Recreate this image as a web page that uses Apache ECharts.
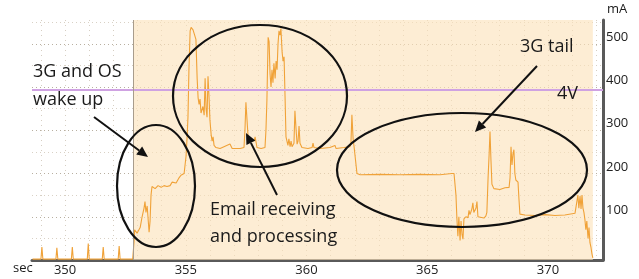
<!DOCTYPE html>
<html><head><meta charset="utf-8">
<script src="https://cdn.jsdelivr.net/npm/echarts@6/dist/echarts.min.js"></script>
<style>html,body{margin:0;padding:0;background:#fff}#c{width:639px;height:279px}</style>
</head><body><div id="c"></div>
<script>
// time (sec) and current (mA)
const times = [348.65,349.00,349.04,349.08,349.62,349.66,349.70,350.26,350.30,350.34,350.92,350.96,351.00,351.54,351.58,351.62,352.20,352.24,352.28,352.80,
352.86,352.88,352.98,353.11,353.19,353.27,353.31,353.35,353.40,353.48,353.52,353.56,353.60,353.73,353.85,353.98,354.10,354.22,354.35,354.43,354.60,354.72,354.80,354.93,
355.01,355.05,355.09,355.13,355.18,355.22,355.30,355.38,355.42,355.47,355.51,355.55,355.59,355.63,355.71,355.76,355.80,355.84,355.88,355.92,355.96,356.00,356.05,356.09,356.13,356.17,356.25,356.42,356.58,356.83,356.92,357.25,357.41,357.45,357.49,357.54,357.58,357.66,357.74,357.83,357.87,357.95,358.12,358.28,
358.32,358.36,358.41,358.45,358.49,358.53,358.57,358.61,358.65,358.70,358.74,358.78,358.82,358.86,358.90,358.94,358.99,359.03,359.07,359.11,359.15,359.19,359.23,359.27,359.32,359.36,359.40,359.48,359.52,359.57,359.61,359.65,359.69,359.73,359.81,360.06,360.23,360.27,360.31,360.56,360.97,361.18,361.22,361.55,361.80,361.84,361.88,361.93,361.97,362.05,362.09,
362.22,363.04,363.87,364.70,365.53,366.02,366.07,366.11,366.15,366.19,366.23,366.27,366.31,366.36,366.40,366.44,366.48,366.52,366.60,366.69,366.73,366.77,366.85,366.89,366.93,367.02,367.06,367.10,367.18,367.35,367.43,367.47,367.52,367.56,367.60,367.64,367.68,367.76,368.01,368.22,368.39,368.43,368.47,368.51,368.55,368.59,368.63,368.67,368.76,368.80,368.84,
369.05,369.46,369.88,370.29,370.70,371.12,371.20,371.24,371.28,371.33,371.37,371.41,371.45,371.49,371.53,371.57,371.61,371.66,371.70,371.74,371.78,371.82,371.86];
const currents = [2,2,30,2,2,28,2,2,30,2,2,38,2,2,30,2,2,32,2,2,
45,70,62,75,100,120,135,110,125,64,90,150,170,165,172,168,172,170,172,180,178,190,196,200,
240,280,330,440,530,538,532,536,510,420,375,360,372,340,355,335,420,350,330,425,380,324,290,275,285,265,260,258,262,268,258,258,260,300,365,320,285,280,282,275,285,260,258,260,
300,370,515,505,430,400,440,410,455,420,460,440,500,530,520,535,480,460,470,380,285,275,265,280,262,275,262,270,345,300,268,275,310,270,260,258,260,270,260,258,260,265,258,260,262,270,336,280,262,258,200,
197,198,197,198,197,200,204,200,199,150,95,55,100,45,90,60,48,95,100,98,115,105,118,132,110,120,135,100,98,97,102,110,190,240,297,230,175,165,163,167,168,190,262,220,245,255,200,185,180,140,106,
104,103,105,103,104,108,112,150,120,148,118,150,120,110,94,70,90,50,75,40,30,15,5];
const xLabels = [350,355,360,365,370];
const xGrid = [349,350,351,352,353,354,355,356,357,358,359,360,361,362,363,364,365,366,367,368,369,370,371,372];
const yLabels = [100,200,300,400,500];
const activeStart = 352.82, activeEnd = 371.86;
const voltLine = 393;

const data = times.map((t,i)=>[t,currents[i]]);
const chart = echarts.init(document.getElementById('c'), null, {renderer:'canvas'});
const FF = '"Open Sans", sans-serif';

function arrow(x1,y1,x2,y2){
  const a = Math.atan2(y2-y1,x2-x1), L=11, W=5;
  const bx = x2 - L*Math.cos(a), by = y2 - L*Math.sin(a);
  const px = -Math.sin(a)*W, py = Math.cos(a)*W;
  return [
    {type:'line', shape:{x1:x1,y1:y1,x2:bx,y2:by}, style:{stroke:'#111', lineWidth:2}, z:10},
    {type:'polygon', shape:{points:[[x2,y2],[bx+px,by+py],[bx-px,by-py]]}, style:{fill:'#111'}, z:10}
  ];
}
function ell(cx,cy,rx,ry){return {type:'ellipse', shape:{cx:cx,cy:cy,rx:rx,ry:ry}, style:{fill:null, stroke:'#111', lineWidth:2.2}, z:10};}
function txt(x,y,s,size){return {type:'text', x:x, y:y, style:{text:s, font:(size||18)+'px '+FF, fill:'#1a1a1a', textVerticalAlign:'middle'}, z:11};}

const major='#b8af a0'.replace(' ',''), minor='#d9d1c5';
const gridColors=[major,minor,major,minor,major,minor,major,minor,major,minor,major,minor,'rgba(0,0,0,0)'];

chart.setOption({
  animation:false,
  backgroundColor:'#fff',
  grid:{left:32, right:36, top:20, bottom:19},
  xAxis:{type:'value', min:348.63, max:372.28,
    axisLine:{lineStyle:{color:'#5a5a5a', width:3}},
    axisTick:{show:false, customValues:xGrid},
    axisLabel:{customValues:xLabels, color:'#222', fontSize:13, fontFamily:FF, margin:4},
    splitLine:{show:true, lineStyle:{type:[1,4], color:'#d6cec2', width:1}}},
  yAxis:{type:'value', position:'right', min:0, max:555, interval:50,
    axisLine:{show:true, lineStyle:{color:'#5a5a5a', width:3}},
    axisTick:{show:false},
    axisLabel:{color:'#222', fontSize:13, fontFamily:FF, margin:3, verticalAlign:'bottom',
      formatter:v=> yLabels.indexOf(v)>=0 ? String(v) : ''},
    splitLine:{show:true, lineStyle:{type:[1,3], color:gridColors, width:1}}},
  series:[{type:'line', data:data, symbol:'none', lineStyle:{color:'#f0a238', width:1.1}, z:3,
    markArea:{silent:true, itemStyle:{color:'rgba(251,226,186,0.62)'}, data:[[{xAxis:activeStart},{xAxis:activeEnd}]]},
    markLine:{silent:true, symbol:'none', label:{show:false}, data:[
      {yAxis:voltLine, lineStyle:{color:'#cfa2e2', width:1.8, type:'solid'}},
      {xAxis:activeStart, lineStyle:{color:'#a89c8c', width:1, type:'solid'}}
    ]}
  }],
  graphic:[].concat(
    [ell(156,186,39,61), ell(260,96,87,71), ell(462,170,125,57)],
    arrow(94,117,148,157), arrow(277,195,246,133), arrow(537,66,475,132),
    [txt(33,72,'3G and OS'), txt(33,100,'wake up'), txt(210,210,'Email receiving'), txt(210,237,'and processing'),
     txt(520,47,'3G tail'), txt(557,94,'4V'),
     txt(13,268,'sec',13), txt(607,9,'mA',13)]
  )
});
</script></body></html>
